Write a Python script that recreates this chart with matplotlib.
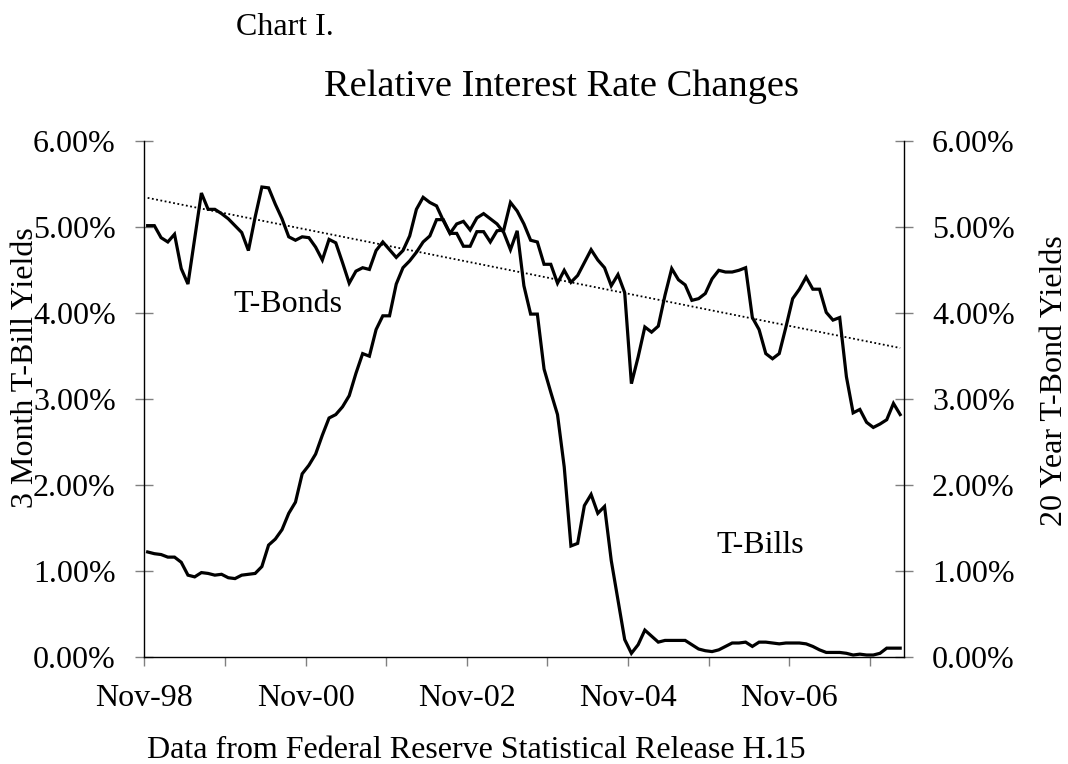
import numpy as np
import matplotlib
matplotlib.use("Agg")
import matplotlib.pyplot as plt
from matplotlib.ticker import FuncFormatter

plt.rcParams['font.family'] = ['Liberation Serif', 'DejaVu Serif']

# monthly yields in percent, Nov-98 onwards
t_bonds = [5.02, 5.02, 4.88, 4.83, 4.92, 4.52, 4.34, 4.87, 5.40, 5.21,
           5.21, 5.16, 5.10, 5.02, 4.94, 4.73, 5.12, 5.47, 5.46, 5.27,
           5.10, 4.89, 4.85, 4.89, 4.88, 4.77, 4.62, 4.86, 4.82, 4.59,
           4.35, 4.49, 4.53, 4.51, 4.73, 4.83, 4.74, 4.65, 4.73, 4.90,
           5.21, 5.35, 5.29, 5.25, 5.08, 4.93, 4.93, 4.78, 4.78, 4.95,
           4.95, 4.83, 4.96, 4.97, 5.29, 5.19, 5.04, 4.85, 4.83, 4.57,
           4.57, 4.35, 4.50, 4.36, 4.44, 4.59, 4.74, 4.62, 4.53, 4.32,
           4.45, 4.24, 3.18, 3.49, 3.84, 3.78, 3.85, 4.21, 4.52, 4.39,
           4.33, 4.15, 4.17, 4.23, 4.40, 4.50, 4.48, 4.48, 4.50, 4.53,
           3.95, 3.81, 3.53, 3.47, 3.53, 3.84, 4.17, 4.28, 4.42, 4.28,
           4.28, 4.01, 3.92, 3.95, 3.26, 2.84, 2.88, 2.73, 2.67, 2.71,
           2.76, 2.95, 2.82]

t_bills = [1.22, 1.20, 1.19, 1.16, 1.16, 1.10, 0.95, 0.93, 0.98, 0.97,
           0.95, 0.96, 0.92, 0.91, 0.95, 0.96, 0.97, 1.05, 1.30, 1.37,
           1.48, 1.67, 1.80, 2.13, 2.23, 2.36, 2.58, 2.78, 2.82, 2.91,
           3.04, 3.30, 3.53, 3.50, 3.81, 3.97, 3.97, 4.34, 4.53, 4.61,
           4.71, 4.83, 4.90, 5.09, 5.09, 4.93, 5.04, 5.07, 4.97, 5.11,
           5.16, 5.10, 5.04, 4.94, 4.74, 4.96, 4.32, 3.99, 3.99, 3.35,
           3.08, 2.82, 2.21, 1.29, 1.32, 1.76, 1.89, 1.67, 1.75, 1.12,
           0.66, 0.20, 0.04, 0.14, 0.31, 0.24, 0.17, 0.19, 0.19, 0.19,
           0.19, 0.14, 0.09, 0.07, 0.06, 0.08, 0.12, 0.16, 0.16, 0.17,
           0.12, 0.17, 0.17, 0.16, 0.15, 0.16, 0.16, 0.16, 0.15, 0.12,
           0.08, 0.05, 0.05, 0.05, 0.04, 0.02, 0.03, 0.02, 0.02, 0.04,
           0.10, 0.10, 0.10]

tick_labels = ['Nov-98', 'Nov-00', 'Nov-02', 'Nov-04', 'Nov-06']
y_ticks = [0, 1, 2, 3, 4, 5, 6]

n = len(t_bonds)
x = np.arange(n) + 0.5  # points sit in the middle of each month slot

# linear trend of the bond yields
k, b = np.polyfit(x, t_bonds, 1)
trend = k * x + b

fig = plt.figure(figsize=(10.68, 7.64), dpi=100)
ax = fig.add_axes([0.1351, 0.1404, 0.7109, 0.6744])

ax.plot(x, t_bonds, color='black', lw=2.3, solid_joinstyle='miter')
ax.plot(x, t_bills, color='black', lw=2.3, solid_joinstyle='miter')
ax.plot([x[0], x[-1]], [trend[0], trend[-1]], color='black', lw=1.3,
        linestyle=(0, (1, 1.4)))

ax.set_xlim(0, n)
ax.set_ylim(0, 6)
ax.set_xticks(np.arange(0, 97, 24))
ax.set_xticklabels(tick_labels)
ax.set_xticks(np.arange(12, n, 24), minor=True)
ax.set_yticks(y_ticks)
ax.yaxis.set_major_formatter(FuncFormatter(lambda v, p: '%.2f%%' % v))

ax.spines['top'].set_visible(False)
for s in ['left', 'right', 'bottom']:
    ax.spines[s].set_linewidth(1.0)
    ax.spines[s].set_color('black')

ax.tick_params(axis='y', which='both', direction='inout', length=13,
               width=1, color='#808080', left=True, right=True,
               labelleft=True, labelright=True, labelsize=23, pad=14)
ax.tick_params(axis='x', which='both', direction='out', length=6.5,
               width=1, color='#808080', labelsize=23, pad=13)

ax.text(13.3, 4.01, 'T-Bonds', fontsize=23, va='baseline', ha='left')
ax.text(85.1, 1.21, 'T-Bills', fontsize=23, va='baseline', ha='left')

fig.text(236 / 1068, 1 - 35 / 764, 'Chart I.', fontsize=23,
         ha='left', va='baseline')
fig.text(562 / 1068, 1 - 96 / 764, 'Relative Interest Rate Changes',
         fontsize=27.6, ha='center', va='baseline')
fig.text(146.7 / 1068, 1 - 758 / 764,
         'Data from Federal Reserve Statistical Release H.15',
         fontsize=23, ha='left', va='baseline')
fig.text(25.6 / 1068, 1 - 368 / 764, '3 Month T-Bill Yields', fontsize=23,
         rotation=90, ha='center', va='center')
fig.text(1054.5 / 1068, 1 - 381 / 764, '20 Year T-Bond Yields', fontsize=23,
         rotation=90, ha='center', va='center')

fig.savefig('out.png', dpi=100)
